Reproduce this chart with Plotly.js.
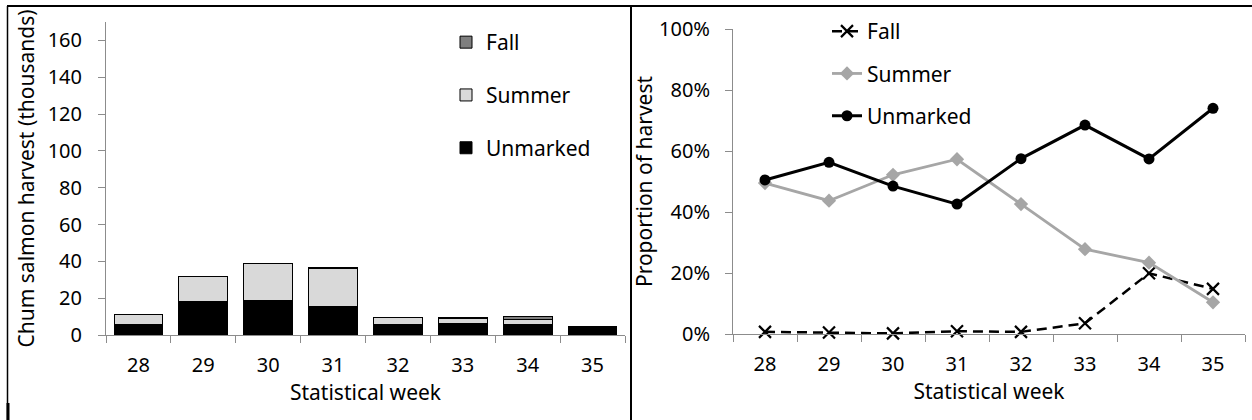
<!DOCTYPE html>
<html><head><meta charset="utf-8">
<script src="https://cdn.plot.ly/plotly-3.0.1.min.js"></script>
<style>html,body{margin:0;padding:0;background:#fff}#chart{width:1252px;height:420px}</style>
</head><body><div id="chart"></div>
<script>
// ---- data ----
const weeks = ['28','29','30','31','32','33','34','35'];
const harvestUnmarked = [5.5, 18.0, 18.9, 15.4, 5.5, 6.4, 5.9, 3.5];
const harvestSummer   = [5.6, 13.8, 20.1, 20.9, 4.0, 2.6, 2.4, 0.5];
const harvestFall     = [0.1, 0.2, 0.1, 0.3, 0.1, 0.3, 2.0, 0.7];
const propFall     = [0.007, 0.005, 0.002, 0.009, 0.007, 0.035, 0.199, 0.148];
const propSummer   = [0.495, 0.437, 0.522, 0.573, 0.426, 0.278, 0.234, 0.104];
const propUnmarked = [0.505, 0.563, 0.485, 0.426, 0.575, 0.685, 0.574, 0.740];
const seriesNames = ['Fall', 'Summer', 'Unmarked'];
const leftYTitle = 'Chum salmon harvest (thousands)';
const rightYTitle = 'Proportion of harvest';
const xTitle = 'Statistical week';

// ---- layout helpers ----
const W = 1252, H = 420;
const px = v => v / W;
const py = v => 1 - v / H;
const FONT = 'Noto Sans, Open Sans, sans-serif';
const AX = '#8c8c8c';
const TXT = 21, TICK = 20;

const barLine = {color: '#000', width: 1};
const traces = [
  {type: 'bar', x: weeks, y: harvestUnmarked, name: seriesNames[2], marker: {color: '#000000', line: barLine},
   xaxis: 'x', yaxis: 'y', legend: 'legend', legendgroup: 'bu', legendrank: 3},
  {type: 'bar', x: weeks, y: harvestSummer, name: seriesNames[1], marker: {color: '#d9d9d9', line: barLine},
   xaxis: 'x', yaxis: 'y', legend: 'legend', legendgroup: 'bs', legendrank: 2},
  {type: 'bar', x: weeks, y: harvestFall, name: seriesNames[0], marker: {color: '#7f7f7f', line: barLine},
   xaxis: 'x', yaxis: 'y', legend: 'legend', legendgroup: 'bf', legendrank: 1},
  {type: 'scatter', mode: 'lines+markers', x: weeks, y: propFall, name: seriesNames[0],
   line: {color: '#000', width: 2.5, dash: '10px,6px'},
   marker: {symbol: 'x-thin', size: 12, line: {color: '#000', width: 2.2}, color: '#000'},
   xaxis: 'x2', yaxis: 'y2', legend: 'legend2', legendgroup: 'lf', cliponaxis: false},
  {type: 'scatter', mode: 'lines+markers', x: weeks, y: propSummer, name: seriesNames[1],
   line: {color: '#a6a6a6', width: 2.8},
   marker: {symbol: 'diamond', size: 11, color: '#a6a6a6'},
   xaxis: 'x2', yaxis: 'y2', legend: 'legend2', legendgroup: 'ls', cliponaxis: false},
  {type: 'scatter', mode: 'lines+markers', x: weeks, y: propUnmarked, name: seriesNames[2],
   line: {color: '#000', width: 3},
   marker: {symbol: 'circle', size: 11, color: '#000'},
   xaxis: 'x2', yaxis: 'y2', legend: 'legend2', legendgroup: 'lu', cliponaxis: false}
];

const xCommon = {
  type: 'category', range: [-0.5, 7.5], showline: true, linecolor: AX, linewidth: 1,
  ticks: 'outside', tickson: 'boundaries', ticklen: 7, tickcolor: AX, tickwidth: 1,
  showgrid: false, zeroline: false, tickfont: {size: TICK, color: '#000'}, ticklabelstandoff: 12,
  title: {text: xTitle, font: {size: TXT, color: '#000'}, standoff: 0}
};
const yCommon = {
  showline: true, linecolor: AX, linewidth: 1, ticks: 'outside', ticklen: 7, tickcolor: AX, tickwidth: 1,
  showgrid: false, zeroline: false, tickfont: {size: TICK, color: '#000'}
};

const bl = {color: '#000', width: 2};
const layout = {
  width: W, height: H, margin: {l: 0, r: 0, t: 0, b: 0},
  paper_bgcolor: '#fff', plot_bgcolor: 'rgba(0,0,0,0)',
  font: {family: FONT, size: TXT, color: '#000'},
  barmode: 'stack', bargap: 0.25,
  xaxis: Object.assign({}, xCommon, {domain: [px(106), px(625)], anchor: 'y'}),
  yaxis: Object.assign({}, yCommon, {domain: [py(335), py(22)], anchor: 'x', range: [0, 170], dtick: 20, tick0: 0,
    ticklabelstandoff: 12, title: {text: leftYTitle, font: {size: TXT, color: '#000'}, standoff: 7}}),
  xaxis2: Object.assign({}, xCommon, {domain: [px(733), px(1245)], anchor: 'y2'}),
  yaxis2: Object.assign({}, yCommon, {domain: [py(334), py(29)], anchor: 'x2', range: [0, 1], dtick: 0.2, tick0: 0,
    tickformat: '.0%', ticklabelstandoff: 11, title: {text: rightYTitle, font: {size: TXT, color: '#000'}, standoff: 0}}),
  showlegend: true,
  legend: {x: px(446), y: py(22), xanchor: 'left', yanchor: 'top', traceorder: 'grouped',
    tracegroupgap: 22.5, bgcolor: 'rgba(0,0,0,0)', font: {size: TXT, color: '#000'}},
  legend2: {x: px(827), y: py(11), xanchor: 'left', yanchor: 'top', traceorder: 'grouped',
    tracegroupgap: 12, bgcolor: 'rgba(0,0,0,0)', font: {size: TXT, color: '#000'}},
  shapes: [
    {type: 'line', xref: 'paper', yref: 'paper', x0: px(7), x1: 1, y0: py(6), y1: py(6), line: bl},
    {type: 'line', xref: 'paper', yref: 'paper', x0: px(7.5), x1: px(7.5), y0: py(6), y1: 0, line: {color: '#000', width: 1.5}},
    {type: 'line', xref: 'paper', yref: 'paper', x0: px(8), x1: px(8), y0: py(403), y1: 0, line: {color: '#000', width: 3}},
    {type: 'line', xref: 'paper', yref: 'paper', x0: px(631), x1: px(631), y0: py(6), y1: 0, line: bl}
  ]
};

Plotly.newPlot('chart', traces, layout, {displayModeBar: false, responsive: false});
</script>
</body></html>
